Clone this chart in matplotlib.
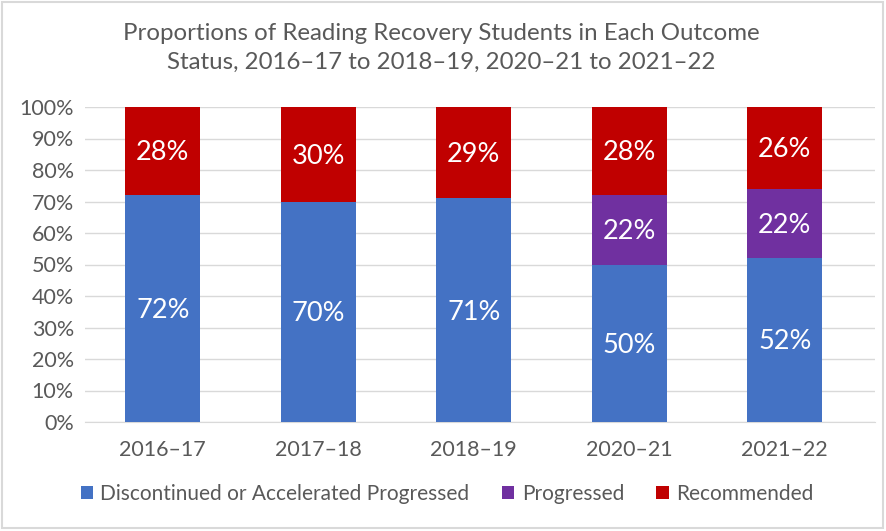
import matplotlib.pyplot as plt
from matplotlib.patches import Rectangle
import numpy as np

plt.rcParams['font.family'] = ['Lato', 'DejaVu Sans']

years = ["2016–17", "2017–18", "2018–19", "2020–21", "2021–22"]
discontinued = [72, 70, 71, 50, 52]
progressed = [0, 0, 0, 22, 22]
recommended = [28, 30, 29, 28, 26]

series = [
    ("Discontinued or Accelerated Progressed", discontinued, "#4472C4"),
    ("Progressed", progressed, "#7030A0"),
    ("Recommended", recommended, "#C00000"),
]

grey = "#595959"

fig = plt.figure(figsize=(8.87, 5.31), dpi=100)
ax = fig.add_axes([85 / 887, 1 - 422 / 531, 790 / 887, 315 / 531])

x = np.arange(len(years))
bottom = np.zeros(len(years))
for name, vals, color in series:
    vals = np.array(vals, dtype=float)
    ax.bar(x, vals, 0.48, bottom=bottom, color=color, label=name, zorder=3)
    for xi, b, v in zip(x, bottom, vals):
        if v > 0:
            ax.text(xi, b + v / 2 - 0.6, f"{v:.0f}%", ha="center", va="center",
                    color="white", fontsize=19.5, zorder=4)
    bottom += vals

# category spacing in the reference is ~155.5 px, gridlines run on a little past the last bar
ax.set_xlim(-0.5, 790 / 155.5 - 0.5)
ax.set_ylim(0, 100)
ax.set_yticks(range(0, 101, 10))
ax.set_yticklabels([f"{t}%" for t in range(0, 101, 10)])
ax.set_xticks(x)
ax.set_xticklabels(years)
ax.yaxis.grid(True, color="#D9D9D9", linewidth=1, zorder=0)
ax.tick_params(axis="both", length=0, labelsize=15.5, labelcolor=grey)
ax.tick_params(axis="x", pad=13)
ax.tick_params(axis="y", pad=8)
for side in ["top", "right", "left"]:
    ax.spines[side].set_visible(False)
ax.spines["bottom"].set_color("#D9D9D9")

fig.text(0.497, 1 - 48 / 531,
         "Proportions of Reading Recovery Students in Each Outcome\n"
         "Status, 2016–17 to 2018–19, 2020–21 to 2021–22",
         ha="center", va="center", fontsize=17.3, color=grey, linespacing=1.45)

leg = fig.legend(loc="center", bbox_to_anchor=(0.504, 1 - 494 / 531), ncol=3,
                 frameon=False, fontsize=15, handlelength=0.6, handleheight=0.6,
                 handletextpad=0.35, columnspacing=1.55)
for t in leg.get_texts():
    t.set_color(grey)

fig.patches.append(Rectangle((2 / 887, 3 / 531), 881 / 887, 526 / 531,
                             transform=fig.transFigure, fill=False,
                             edgecolor="#D9D9D9", linewidth=1.5))

fig.savefig("out.png", dpi=100)
